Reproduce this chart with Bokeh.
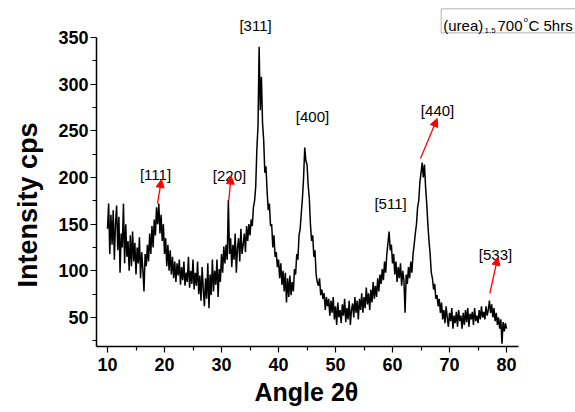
from bokeh.plotting import figure
from bokeh.models import FixedTicker, Range1d, Label, Arrow, NormalHead, BoxAnnotation, Title
from bokeh.embed import file_html
from bokeh.resources import INLINE

# ---- data ----
angle_start = 10.0
angle_step = 0.2
intensity = [
    145, 172, 118, 160, 128,   # 10
    165, 112, 150, 170, 122,   # 11
    158, 98, 140, 125, 172,    # 12
    108, 150, 115, 132, 100,   # 13
    138, 105, 142, 110, 130,   # 14
    96, 125, 108, 136, 92,     # 15
    120, 102, 78, 118, 105,    # 16
    128, 110, 140, 118, 148,   # 17
    125, 155, 138, 168, 150,   # 18
    172, 140, 160, 132, 150,   # 19
    118, 135, 105, 128, 100,   # 20
    122, 96, 115, 92, 110,     # 21
    88, 108, 95, 112, 85,      # 22
    104, 90, 110, 84, 98,      # 23
    88, 115, 82, 100, 86,      # 24
    112, 80, 98, 84, 110,      # 25
    75, 95, 68, 104, 80,       # 26
    62, 92, 70, 108, 60,       # 27
    96, 74, 112, 78, 100,      # 28
    85, 112, 72, 102, 88,      # 29
    118, 98, 126, 108, 128,    # 30
    112, 176, 118, 135, 104,   # 31
    128, 112, 140, 98, 125,    # 32
    135, 110, 145, 118, 128,   # 33
    140, 120, 148, 132, 150,   # 34
    138, 155, 148, 168, 175,   # 35
    190, 230, 255, 340, 272,   # 36
    308, 258, 240, 205, 212,   # 37
    185, 165, 172, 148, 150,   # 38
    125, 138, 115, 120, 104,   # 39
    112, 92, 108, 85, 100,     # 40
    78, 98, 66, 92, 72,        # 41
    95, 74, 88, 78, 102,       # 42
    96, 118, 112, 138, 145,    # 43
    162, 178, 200, 232, 218,   # 44
    214, 192, 178, 150, 132,   # 45
    138, 115, 122, 96, 88,     # 46
    84, 92, 74, 80, 70,        # 47
    76, 58, 72, 62, 70,        # 48
    52, 68, 55, 72, 48,        # 49
    62, 42, 66, 50, 58,        # 50
    44, 64, 52, 70, 45,        # 51
    60, 48, 68, 42, 58,        # 52
    65, 50, 72, 55, 68,        # 53
    48, 70, 58, 76, 55,        # 54
    72, 60, 82, 64, 76,        # 55
    58, 80, 66, 88, 70,        # 56
    84, 72, 92, 78, 96,        # 57
    86, 102, 90, 110, 98,      # 58
    118, 130, 142, 122, 128,   # 59
    108, 118, 96, 110, 88,     # 60
    104, 92, 108, 84, 100,     # 61
    90, 55, 96, 86, 104,       # 62
    92, 110, 98, 118, 128,     # 63
    140, 150, 168, 175, 195,   # 64
    205, 216, 200, 214, 190,   # 65
    172, 150, 132, 118, 98,    # 66
    92, 80, 86, 70, 74,        # 67
    62, 70, 55, 66, 48,        # 68
    58, 44, 62, 50, 40,        # 69
    55, 46, 60, 38, 52,        # 70
    44, 56, 40, 58, 46,        # 71
    52, 38, 55, 42, 58,        # 72
    45, 60, 40, 54, 48,        # 73
    56, 42, 60, 46, 52,        # 74
    44, 58, 48, 62, 50,        # 75
    56, 48, 62, 52, 58,        # 76
    68, 55, 64, 50, 60,        # 77
    46, 55, 42, 50, 38,        # 78
    48, 22, 45, 35, 44,        # 79
    38,                        # 80
]
angle = [round(angle_start + i * angle_step, 2) for i in range(len(intensity))]

x_ticks = [10, 20, 30, 40, 50, 60, 70, 80]
x_minor = [15, 25, 35, 45, 55, 65, 75]
y_ticks = [50, 100, 150, 200, 250, 300, 350]
y_minor = [25, 75, 125, 175, 225, 275, 325]

x_title = "Angle 2θ"
y_title = "Intensity cps"

peak_names = ["[111]", "[220]", "[311]", "[400]", "[511]", "[440]", "[533]"]
peak_label_x = [18.42, 31.4, 35.97, 45.96, 59.65, 67.9, 78.07]
peak_label_y = [203.2, 202.1, 362.9, 265.4, 172.1, 271.8, 117.5]

# arrows: (x_start, y_start, x_end, y_end)
arrow_x0 = [18.77, 31.28, 64.91, 77.07]
arrow_y0 = [172.1, 175.4, 220.4, 75.7]
arrow_x1 = [19.47, 31.67, 67.84, 78.47]
arrow_y1 = [197.9, 201.6, 263.2, 114.6]

FONT = "Liberation Sans"

p = figure(width=575, height=412,
           x_range=Range1d(8.07, 92.1), y_range=Range1d(18.9, 389.7),
           output_backend="svg", toolbar_location=None,
           min_border_left=96, min_border_bottom=66,
           min_border_top=0, min_border_right=0)
p.outline_line_color = None
p.grid.visible = False
p.background_fill_color = "white"
p.border_fill_color = "white"

p.line(angle, intensity, line_color="black", line_width=1.5)

for ax in (p.xaxis[0], p.yaxis[0]):
    ax.axis_line_width = 1.5
    ax.axis_line_color = "black"
    ax.major_tick_line_color = "black"
    ax.minor_tick_line_color = "black"
    ax.major_tick_line_width = 1.2
    ax.minor_tick_line_width = 1.2
    ax.major_tick_in = 0
    ax.major_tick_out = 6
    ax.minor_tick_in = 0
    ax.minor_tick_out = 4
    ax.major_label_text_font = FONT
    ax.major_label_text_font_style = "bold"
    ax.major_label_text_font_size = "18px"
    ax.major_label_text_color = "black"

p.xaxis.ticker = FixedTicker(ticks=x_ticks, minor_ticks=x_minor)
p.yaxis.ticker = FixedTicker(ticks=y_ticks, minor_ticks=y_minor)
p.xaxis.bounds = (8.07, 82.1)
p.yaxis.bounds = (18.9, 350)
p.xaxis.major_label_standoff = 5
p.yaxis.major_label_standoff = 2

# axis titles as titles in the side panels (so they can be offset)
p.add_layout(Title(text=x_title, align="left", offset=158, standoff=5,
                   text_font=FONT, text_font_style="bold",
                   text_font_size="25px", text_color="black"), "below")
p.add_layout(Title(text=y_title, align="left", vertical_align="top",
                   offset=59, standoff=21,
                   text_font=FONT, text_font_style="bold",
                   text_font_size="27px", text_color="black"), "left")

for name, lx, ly in zip(peak_names, peak_label_x, peak_label_y):
    p.add_layout(Label(x=lx, y=ly, text=name, text_align="center",
                       text_baseline="middle", text_font=FONT,
                       text_font_size="15px", text_color="black"))

for x0, y0, x1, y1 in zip(arrow_x0, arrow_y0, arrow_x1, arrow_y1):
    p.add_layout(Arrow(x_start=x0, y_start=y0, x_end=x1, y_end=y1,
                       line_color="red", line_width=1.3,
                       end=NormalHead(size=8, fill_color="red", line_color="red")))

# legend box "(urea)1.5 700oC 5hrs"
p.add_layout(BoxAnnotation(left=68.54, right=100, top=380.8, bottom=355.0,
                           fill_color="white", fill_alpha=1.0,
                           line_color="black", line_width=1.0))
legend_parts = [("(urea)", 68.90, 362.9, "15px"),
                ("1.5", 76.14, 357.5, "8px"),
                ("700", 78.42, 362.9, "15px"),
                ("o", 82.98, 369.8, "8px"),
                ("C 5hrs", 83.86, 362.9, "15px")]
for txt, lx, ly, fs in legend_parts:
    p.add_layout(Label(x=lx, y=ly, text=txt, text_align="left",
                       text_baseline="alphabetic", text_font=FONT,
                       text_font_size=fs, text_color="black"))

open("out.html", "w").write(file_html(p, INLINE))
